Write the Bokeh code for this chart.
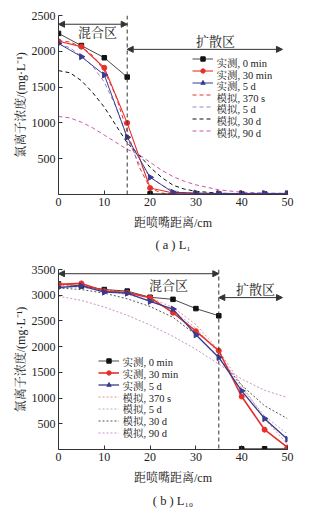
import numpy as np
from bokeh.plotting import figure
from bokeh.models import Legend, LegendItem, Span, Arrow, NormalHead, Label, Title
from bokeh.layouts import column
from bokeh.embed import file_html
from bokeh.resources import INLINE

# ---------------- data ----------------
x_meas = [0, 5, 10, 15, 20, 25, 30, 35, 40, 45, 50]

# (a) L1
a_boundary = 15
a_0min = [2250, 2080, 1910, 1640, 10, 10, 10, 10, 10, 10, 10]
a_30min = [2140, 2065, 1770, 1000, 90, 20, 15, 12, 12, 12, 12]
a_5d = [2110, 1925, 1670, 800, 240, 30, 20, 15, 15, 15, 15]

x_sim_a = [0, 2.5, 5, 7.5, 10, 12.5, 15, 17.5, 20, 22.5, 25, 27.5, 30, 35, 40, 45, 50]
a_sim_370s = [2150, 2130, 2060, 1940, 1730, 1380, 880, 400, 90, 20, 8, 5, 5, 5, 5, 5, 5]
a_sim_5d = [2100, 2050, 1930, 1790, 1570, 1230, 790, 440, 250, 130, 55, 25, 12, 6, 5, 5, 5]
a_sim_30d = [1730, 1700, 1590, 1420, 1220, 970, 720, 560, 380, 240, 130, 75, 45, 18, 10, 8, 6]
a_sim_90d = [1090, 1070, 1010, 930, 830, 730, 630, 560, 450, 340, 250, 185, 135, 65, 32, 20, 15]

# (b) L10
b_boundary = 35
b_0min = [3220, 3180, 3110, 3080, 2960, 2920, 2740, 2600, 15, 15, 15]
b_30min = [3210, 3230, 3080, 3050, 2950, 2660, 2300, 1920, 1030, 385, 40]
b_5d = [3150, 3180, 3060, 3040, 2880, 2730, 2230, 1790, 1140, 600, 200]

x_sim_b = [0, 5, 10, 15, 20, 25, 30, 35, 40, 45, 50]
b_sim_370s = [3190, 3180, 3120, 3050, 2950, 2760, 2430, 1930, 1250, 600, 100]
b_sim_5d = [3160, 3150, 3090, 3010, 2900, 2700, 2360, 1860, 1200, 650, 300]
b_sim_30d = [3140, 3110, 3040, 2930, 2780, 2570, 2230, 1780, 1250, 850, 600]
b_sim_90d = [2980, 2900, 2770, 2610, 2420, 2200, 1950, 1660, 1370, 1150, 1010]

x_ticks = [0, 10, 20, 30, 40, 50]
a_y_ticks = [500, 1000, 1500, 2000, 2500]
b_y_ticks = [500, 1000, 1500, 2000, 2500, 3000, 3500]

meas_labels = ["实测, 0 min", "实测, 30 min", "实测, 5 d"]
sim_labels = ["模拟, 370 s", "模拟, 5 d", "模拟, 30 d", "模拟, 90 d"]

SERIF = "Liberation Serif, Noto Serif CJK SC, Noto Sans CJK SC"
INK = "#222222"
FRAME_W = 229
ROW = 12  # legend row pitch (px)


def style(p, yticks):
    p.xaxis.ticker = x_ticks
    p.yaxis.ticker = yticks
    for ax in (p.xaxis[0], p.yaxis[0]):
        ax.major_tick_in = 4
        ax.major_tick_out = 0
        ax.minor_tick_in = 0
        ax.minor_tick_out = 0
        ax.major_label_text_font = SERIF
        ax.major_label_text_font_size = "12px"
        ax.major_label_text_color = INK
        ax.axis_label_text_font = SERIF
        ax.axis_label_text_font_size = "12px"
        ax.axis_label_text_font_style = "normal"
        ax.axis_label_text_color = INK
        ax.axis_line_color = "#333333"
        ax.major_tick_line_color = "#333333"
    p.xaxis.axis_label = "距喷嘴距离/cm"
    p.yaxis.axis_label = "氯离子浓度/(mg·L⁻¹)"
    p.xaxis.major_label_standoff = 3
    p.yaxis.major_label_standoff = 3
    p.xaxis.axis_label_standoff = 7
    p.yaxis.axis_label_standoff = 1
    p.xgrid.visible = False
    p.ygrid.visible = False
    p.outline_line_color = None


def split(xs, ys, boundary):
    n = len([x for x in xs if x <= boundary])
    return [xs[:n], xs[n:]], [ys[:n], ys[n:]]


def build(m0, m30, m5, boundary, xs_sim, sims, sim_colors, sim_dash, yticks, ymax,
          height, top, bottom, caption, cap_standoff, zones, legend_x, legend_top):
    frame_h = height - top - bottom
    p = figure(width=330, height=height, x_range=(0, 50), y_range=(0, ymax),
               output_backend="svg", toolbar_location=None,
               min_border_left=58, min_border_right=43, min_border_top=top, min_border_bottom=bottom)
    style(p, yticks)

    sim_r = []
    for ys, c in zip(sims, sim_colors):
        sim_r.append(p.line(xs_sim, ys, line_color=c, line_dash=sim_dash, line_width=1))

    # zone annotations
    p.add_layout(Span(location=boundary, dimension="height", line_color="#333333",
                      line_dash="4 3", line_width=1))
    (mx0, mx1, my, tx, ty), (dx0, dx1, dy, tx2, ty2) = zones
    for x0, x1, yy in ((mx0, mx1, my), (dx0, dx1, dy)):
        p.add_layout(Arrow(x_start=x0, y_start=yy, x_end=x1, y_end=yy, line_width=1,
                           line_color="#333333",
                           start=NormalHead(size=6, fill_color="#333333", line_color="#333333"),
                           end=NormalHead(size=6, fill_color="#333333", line_color="#333333")))
    p.add_layout(Label(x=tx, y=ty, text="混合区", text_align="center", text_baseline="middle",
                       text_font=SERIF, text_font_size="13px", text_color=INK))
    p.add_layout(Label(x=tx2, y=ty2, text="扩散区", text_align="center", text_baseline="middle",
                       text_font=SERIF, text_font_size="13px", text_color=INK))

    # measured
    xs0, ys0 = split(x_meas, m0, boundary)
    l0 = p.multi_line(xs0, ys0, line_color="#1a1a1a", line_width=0.8)
    s0 = p.scatter(x_meas, m0, marker="square", size=4.5, color="#111111")
    l30 = p.line(x_meas, m30, line_color="#e8302a", line_width=1.1 if ymax < 3000 else 1.6)
    s30 = p.scatter(x_meas, m30, marker="circle", size=5, color="#e8302a")
    l5 = p.line(x_meas, m5, line_color="#3b3b8f", line_width=1.0 if ymax < 3000 else 1.3)
    s5 = p.scatter(x_meas, m5, marker="triangle", size=6, angle=-np.pi / 2, color="#3b3b8f")

    # legend: glyph samples from the legend model, label texts as text annotations
    all_labels = meas_labels + sim_labels
    renderers = [[l0, s0], [l30, s30], [l5, s5]] + [[r] for r in sim_r]
    items = [LegendItem(label=" ", renderers=rs) for rs in renderers]
    n = len(items)
    leg_h = n * (ROW - 1) + (n - 1)
    leg = Legend(items=items, location=(legend_x, frame_h - legend_top - leg_h),
                 padding=0, margin=0, spacing=1,
                 label_height=ROW - 1, glyph_height=ROW - 1, glyph_width=21, label_standoff=0,
                 label_text_font_size="1px", label_width=1,
                 border_line_color=None, background_fill_alpha=0)
    p.add_layout(leg)
    tx_data = (legend_x + 24) / FRAME_W * 50
    for i, lab in enumerate(all_labels):
        ypx = legend_top + (ROW - 1) / 2 + i * ROW
        p.add_layout(Label(x=tx_data, y=(frame_h - ypx) * ymax / frame_h, text=lab,
                           text_align="left", text_baseline="middle", text_font=SERIF,
                           text_font_size="10.5px", text_color=INK))

    cap = Title(text=caption, align="center", text_font="Liberation Serif", text_font_size="12.5px",
                text_font_style="normal", text_color=INK, standoff=cap_standoff,
                vertical_align="middle")
    p.add_layout(cap, "below")
    return p


p1 = build(a_0min, a_30min, a_5d, a_boundary, x_sim_a,
           [a_sim_370s, a_sim_5d, a_sim_30d, a_sim_90d],
           ["#e8302a", "#8a8ac8", "#111111", "#cc55aa"], "4 3",
           a_y_ticks, 2500, 256, 15, 56, "( a ) L₁", 8,
           ((0, 15, 2378, 8.5, 2257), (15, 48.9, 2027, 34.3, 2135)),
           134, 44)

p2 = build(b_0min, b_30min, b_5d, b_boundary, x_sim_b,
           [b_sim_370s, b_sim_5d, b_sim_30d, b_sim_90d],
           ["#e89090", "#b0b0c4", "#555555", "#c890c8"], "2 2",
           b_y_ticks, 3500, 257, 13, 60, "( b ) L₁₀", 10,
           ((0, 35, 3418, 24, 3195), (35, 48.9, 2954, 43, 3120)),
           40, 90)

layout = column(p1, p2, spacing=0)
open("out.html", "w").write(file_html(layout, INLINE))
